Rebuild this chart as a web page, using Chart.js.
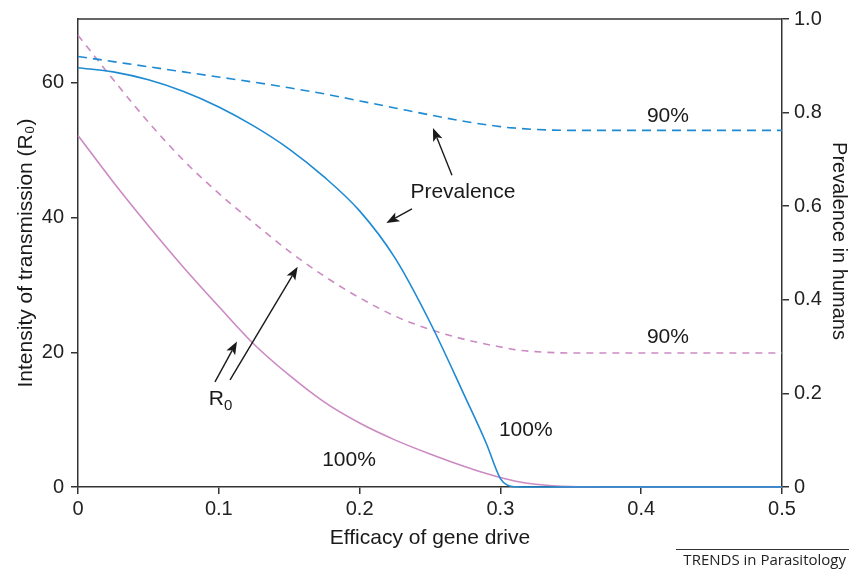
<!DOCTYPE html>
<html><head><meta charset="utf-8">
<script src="https://cdn.jsdelivr.net/npm/chart.js@4"></script>
<style>html,body{margin:0;padding:0;background:#fff}#wrap{width:849px;height:571px;position:relative}</style>
</head><body><div id="wrap"><canvas id="c" width="849" height="571"></canvas></div>
<script>
// ---- Data ----
const efficacy     = [0, 0.025, 0.05, 0.075, 0.1, 0.125, 0.15, 0.175, 0.2, 0.225, 0.25, 0.275, 0.29, 0.3, 0.305, 0.31, 0.325, 0.35, 0.375, 0.4, 0.425, 0.45, 0.475, 0.5];
const r0Drive90    = [67.1, 60.5, 54.2, 48.5, 43.6, 39.2, 35.0, 31.3, 28.1, 25.4, 23.4, 21.9, 21.2, 20.8, 20.6, 20.4, 20.1, 19.9, 19.9, 19.9, 19.9, 19.9, 19.9, 19.9];
const r0Drive100   = [52.2, 45.3, 38.8, 32.6, 26.8, 21.2, 16.6, 12.6, 9.5, 7.0, 4.9, 3.0, 2.0, 1.4, 1.15, 0.9, 0.4, 0.05, 0, 0, 0, 0, 0, 0];
const prevDrive90  = [0.920, 0.909, 0.898, 0.887, 0.876, 0.865, 0.853, 0.840, 0.825, 0.810, 0.795, 0.781, 0.774, 0.770, 0.768, 0.767, 0.764, 0.762, 0.762, 0.762, 0.762, 0.762, 0.762, 0.762];
const prevDrive100 = [0.896, 0.887, 0.870, 0.845, 0.812, 0.771, 0.722, 0.662, 0.590, 0.490, 0.352, 0.192, 0.093, 0.018, 0.004, 0.0005, 0, 0, 0, 0, 0, 0, 0, 0];
const xTicks     = [0, 0.1, 0.2, 0.3, 0.4, 0.5];
const xTickText  = ['0', '0.1', '0.2', '0.3', '0.4', '0.5'];
const leftTicks  = [0, 20, 40, 60];
const rightTicks = [0, 0.2, 0.4, 0.6, 0.8, 1.0];
const rightTickText = ['0', '0.2', '0.4', '0.6', '0.8', '1.0'];

// annotation labels in data units (x, left axis)
const labels = [
  {text: '90%', x: 0.419, y: 55.0},
  {text: 'Prevalence', x: 0.2734, y: 43.8},
  {text: '90%', x: 0.419, y: 22.2},
  {text: '100%', x: 0.1925, y: 4.0},
  {text: '100%', x: 0.318, y: 8.4}
];
const subLabel = {main: 'R', sub: '0', x: 0.103, y: 13.0};
const arrows = [
  {x1: 0.2656, y1: 46.3, x2: 0.2521, y2: 53.3},
  {x1: 0.2372, y1: 41.3, x2: 0.2190, y2: 39.2},
  {x1: 0.0973, y1: 15.6, x2: 0.1129, y2: 21.6},
  {x1: 0.1080, y1: 15.9, x2: 0.1560, y2: 32.7}
];
const rightTitle = 'Prevalence in humans';

const BLUE = '#1d8ad3';
const PINK = '#cc8ac3';
const AXIS = '#333333';
const FONT = '"Liberation Sans", Arial, Helvetica, sans-serif';

function pts(arr) { return efficacy.map((x, i) => ({x: x, y: arr[i]})); }

const annotate = {
  id: 'annotate',
  afterDatasetsDraw(chart) {
    const ctx = chart.ctx, xs = chart.scales.x, ys = chart.scales.y, a = chart.chartArea;
    ctx.save();
    // top frame line
    ctx.strokeStyle = AXIS; ctx.lineWidth = 1.5;
    ctx.beginPath(); ctx.moveTo(a.left, a.top); ctx.lineTo(a.right, a.top); ctx.stroke();
    // labels
    ctx.fillStyle = '#1a1a1a';
    ctx.font = '21px ' + FONT;
    ctx.textAlign = 'center'; ctx.textBaseline = 'middle';
    labels.forEach(l => ctx.fillText(l.text, xs.getPixelForValue(l.x), ys.getPixelForValue(l.y)));
    // R0 with subscript
    const sx = xs.getPixelForValue(subLabel.x), sy = ys.getPixelForValue(subLabel.y);
    ctx.textAlign = 'right';
    ctx.fillText(subLabel.main, sx + 1, sy);
    ctx.font = '15px ' + FONT; ctx.textAlign = 'left';
    ctx.fillText(subLabel.sub, sx + 1, sy + 6);
    // right axis title
    ctx.save();
    ctx.translate(839, (a.top + a.bottom) / 2 - 12);
    ctx.rotate(Math.PI / 2);
    ctx.font = '20px ' + FONT; ctx.textAlign = 'center'; ctx.textBaseline = 'middle';
    ctx.fillText(rightTitle, 0, 0);
    ctx.restore();
    // arrows
    ctx.strokeStyle = '#1a1a1a'; ctx.lineWidth = 1.4;
    arrows.forEach(r => {
      const x1 = xs.getPixelForValue(r.x1), y1 = ys.getPixelForValue(r.y1);
      const x2 = xs.getPixelForValue(r.x2), y2 = ys.getPixelForValue(r.y2);
      const ang = Math.atan2(y2 - y1, x2 - x1);
      const hl = 13, hw = 5;
      const bx = x2 - hl * Math.cos(ang), by = y2 - hl * Math.sin(ang);
      ctx.beginPath(); ctx.moveTo(x1, y1); ctx.lineTo(bx + 3 * Math.cos(ang), by + 3 * Math.sin(ang)); ctx.stroke();
      ctx.beginPath();
      ctx.moveTo(x2, y2);
      ctx.lineTo(bx + hw * Math.sin(ang), by - hw * Math.cos(ang));
      ctx.lineTo(bx + 3 * Math.cos(ang), by + 3 * Math.sin(ang));
      ctx.lineTo(bx - hw * Math.sin(ang), by + hw * Math.cos(ang));
      ctx.closePath(); ctx.fillStyle = '#1a1a1a'; ctx.fill();
    });
    // source credit
    ctx.strokeStyle = '#333'; ctx.lineWidth = 1;
    ctx.beginPath(); ctx.moveTo(676, 549.5); ctx.lineTo(849, 549.5); ctx.stroke();
    ctx.font = '15px "Open Sans", "Liberation Sans", sans-serif';
    ctx.fillStyle = '#222'; ctx.textAlign = 'right'; ctx.textBaseline = 'middle';
    ctx.fillText('TRENDS in Parasitology', 846, 561);
    ctx.restore();
  }
};

new Chart(document.getElementById('c'), {
  type: 'line',
  data: {
    datasets: [
      {label: 'Prevalence 100%', data: pts(prevDrive100), yAxisID: 'y2', borderColor: BLUE, borderWidth: 1.6, pointRadius: 0, cubicInterpolationMode: 'monotone', clip: 6, fill: false},
      {label: 'Prevalence 90%', data: pts(prevDrive90), yAxisID: 'y2', borderColor: BLUE, borderWidth: 1.6, borderDash: [9, 6], pointRadius: 0, cubicInterpolationMode: 'monotone', clip: 6, fill: false},
      {label: 'R0 100%', data: pts(r0Drive100), yAxisID: 'y', borderColor: PINK, borderWidth: 1.6, pointRadius: 0, cubicInterpolationMode: 'monotone', clip: 6, fill: false},
      {label: 'R0 90%', data: pts(r0Drive90), yAxisID: 'y', borderColor: PINK, borderWidth: 1.6, borderDash: [7, 6], pointRadius: 0, cubicInterpolationMode: 'monotone', clip: 6, fill: false}
    ]
  },
  options: {
    responsive: false,
    animation: false,
    devicePixelRatio: 1,
    layout: {padding: {top: 19, bottom: 0, left: 0, right: 0}},
    plugins: {legend: {display: false}, tooltip: {enabled: false}},
    scales: {
      x: {
        type: 'linear', min: 0, max: 0.5,
        afterBuildTicks: s => { s.ticks = xTicks.map(v => ({value: v})); },
        afterFit: s => { s.height = 84; },
        ticks: {color: '#222', font: {family: FONT, size: 20}, padding: 3,
          callback: (v) => { const i = xTicks.findIndex(t => Math.abs(t - v) < 1e-9); return i >= 0 ? xTickText[i] : ''; }},
        grid: {drawOnChartArea: false, drawTicks: true, tickLength: 7, color: AXIS, lineWidth: 1.5},
        border: {display: true, color: AXIS, width: 1.5},
        title: {display: true, text: 'Efficacy of gene drive', color: '#1a1a1a', font: {family: FONT, size: 21}, padding: {top: 0, bottom: 20}}
      },
      y: {
        type: 'linear', position: 'left', min: 0, max: 69.5,
        afterBuildTicks: s => { s.ticks = leftTicks.map(v => ({value: v})); },
        afterFit: s => { s.width = 78; },
        ticks: {color: '#222', font: {family: FONT, size: 20}, padding: 7, callback: v => String(v)},
        grid: {drawOnChartArea: false, drawTicks: true, tickLength: 7, color: AXIS, lineWidth: 1.5},
        border: {display: true, color: AXIS, width: 1.5},
        title: {display: true, text: 'Intensity of transmission (R\u2080)', color: '#1a1a1a', font: {family: FONT, size: 21}, padding: {top: 14, bottom: 0}}
      },
      y2: {
        type: 'linear', position: 'right', min: 0, max: 1.0,
        afterBuildTicks: s => { s.ticks = rightTicks.map(v => ({value: v})); },
        afterFit: s => { s.width = 67; },
        ticks: {color: '#222', font: {family: FONT, size: 20}, padding: 5,
          callback: (v) => { const i = rightTicks.findIndex(t => Math.abs(t - v) < 1e-9); return i >= 0 ? rightTickText[i] : ''; }},
        grid: {drawOnChartArea: false, drawTicks: true, tickLength: 7, color: AXIS, lineWidth: 1.5},
        border: {display: true, color: AXIS, width: 1.5},
        title: {display: false}
      }
    }
  },
  plugins: [annotate]
});
</script>
</body></html>
